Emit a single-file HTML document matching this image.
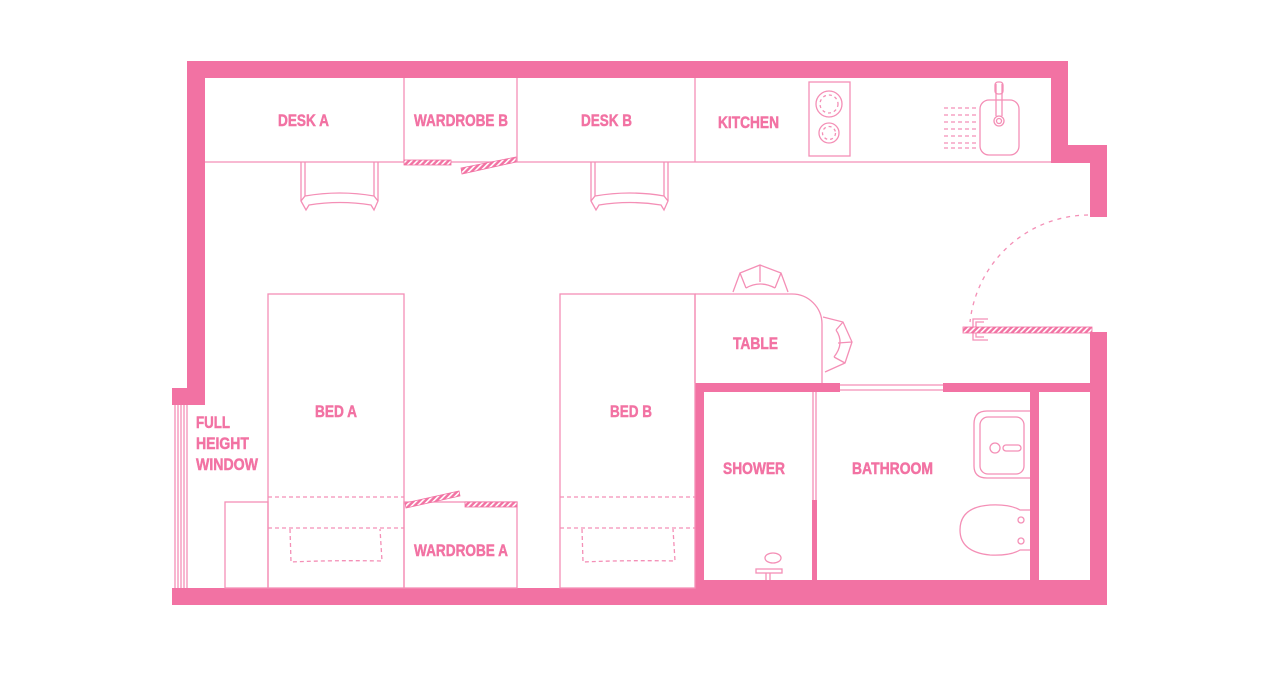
<!DOCTYPE html>
<html><head><meta charset="utf-8"><style>
html,body{margin:0;padding:0;background:#fff;}
svg{display:block;}
text{font-family:"Liberation Sans",sans-serif;font-weight:bold;fill:#F272A3;stroke:#F272A3;stroke-width:0.5;font-size:17px;}
</style></head><body>
<svg width="1280" height="680" viewBox="0 0 1280 680" xmlns="http://www.w3.org/2000/svg">
<defs>
<pattern id="h" width="4" height="4" patternUnits="userSpaceOnUse" patternTransform="rotate(45)">
<rect width="4" height="4" fill="#F272A3"/><rect width="1.6" height="4" fill="#fff"/>
</pattern>
</defs>
<g fill="#F272A3">
<rect x="187" y="61" width="881" height="17"/>
<rect x="187" y="61" width="18" height="344"/>
<rect x="172" y="388" width="33" height="17"/>
<rect x="1051" y="61" width="17" height="102"/>
<rect x="1051" y="145" width="56" height="18"/>
<rect x="1090" y="145" width="17" height="72"/>
<rect x="1090" y="332" width="17" height="273"/>
<rect x="172" y="588" width="935" height="17"/>
<rect x="695" y="580" width="412" height="25"/>
<rect x="695" y="383" width="145" height="9"/>
<rect x="943" y="383" width="147" height="9"/>
<rect x="695" y="383" width="9" height="205"/>
<rect x="812" y="500" width="5" height="82"/>
<rect x="1030" y="383" width="9" height="200"/>
</g>
<g fill="none" stroke="#F48FB6" stroke-width="1.3">
<line x1="175" y1="405" x2="175" y2="588"/><line x1="178" y1="405" x2="178" y2="588"/>
<line x1="181" y1="405" x2="181" y2="588"/><line x1="184" y1="405" x2="184" y2="588"/>
<line x1="187" y1="405" x2="187" y2="588"/>
<line x1="205" y1="162" x2="1051" y2="162"/>
<line x1="404" y1="78" x2="404" y2="162"/>
<line x1="517" y1="78" x2="517" y2="162"/>
<line x1="695" y1="78" x2="695" y2="162"/>
<rect x="809" y="82" width="41" height="74"/>
<circle cx="829" cy="104" r="13"/><circle cx="829" cy="104" r="9" stroke-dasharray="3 3"/>
<circle cx="829" cy="133" r="10"/><circle cx="829" cy="133" r="6.5" stroke-dasharray="3 3"/>
<rect x="980" y="100" width="39" height="55" rx="9"/>
<circle cx="999" cy="121" r="5"/><circle cx="999" cy="121" r="2.5"/>
<line x1="996" y1="84" x2="996" y2="116"/><line x1="1002" y1="84" x2="1002" y2="116"/>
<rect x="995" y="82" width="8" height="12" rx="3"/>
<g stroke-dasharray="4 3">
<line x1="944" y1="108" x2="979" y2="108"/><line x1="944" y1="115" x2="979" y2="115"/>
<line x1="944" y1="122" x2="979" y2="122"/><line x1="944" y1="129" x2="979" y2="129"/>
<line x1="944" y1="136" x2="979" y2="136"/><line x1="944" y1="143" x2="979" y2="143"/>
<line x1="944" y1="148" x2="979" y2="148"/>
</g>
<g id="ch">
<path d="M301 162 V201 M305 162 V196 M374 162 V196 M378 162 V201"/>
<path d="M301 201 L306 210 L309 205 Q340 200 371 205 L374 210 L378 201 L374 196 Q340 190 305 196 Z"/>
</g>
<use href="#ch" x="290"/>
<path d="M1088 215 A120 120 0 0 0 970 322" stroke-dasharray="4 5"/>
<path d="M988 319 H973 V340 H988 M984 322 H976 V337 H984"/>
<path d="M695 294 H792 A30 30 0 0 1 822 324 V383"/>
<path d="M733 292 L740 273 L760 265 L781 273 L788 292 M740 273 L746 288 M760 265 L760 282 M781 273 L775 288 M746 288 Q760 280 775 288"/>
<path d="M823 317 L843 322 L852 342 L845 363 L825 372 M843 322 L836 330 M852 342 L838 343 M845 363 L834 357 M836 330 Q845 343 834 357"/>
<line x1="840" y1="385" x2="943" y2="385"/><line x1="840" y1="390" x2="943" y2="390"/>
<line x1="813" y1="392" x2="813" y2="500"/><line x1="816" y1="392" x2="816" y2="500"/>
<path d="M1030 411 H987 Q974 411 974 424 V466 Q974 478 987 478 H1030"/>
<rect x="980" y="417" width="44" height="57" rx="8"/>
<circle cx="995" cy="448" r="5"/><rect x="1003" y="445" width="18" height="6" rx="3"/>
<path d="M1030 510 H1020 Q1010 504 990 505 Q960 507 960 530 Q960 552 990 555 Q1010 556 1020 550 H1030"/>
<circle cx="1021" cy="520" r="3"/><circle cx="1021" cy="541" r="3"/>
<ellipse cx="773" cy="558" rx="8" ry="5"/><rect x="756" y="569" width="26" height="4"/>
<line x1="766" y1="573" x2="766" y2="580"/><line x1="770" y1="573" x2="770" y2="580"/>
<rect x="268" y="294" width="136" height="294"/>
<rect x="560" y="294" width="135" height="294"/>
<line x1="695" y1="294" x2="695" y2="383"/>
<rect x="404" y="502" width="113" height="86"/>
<rect x="225" y="502" width="43" height="86"/>
<g stroke-dasharray="4 3">
<line x1="268" y1="497" x2="404" y2="497"/><line x1="268" y1="528" x2="404" y2="528"/>
<line x1="560" y1="497" x2="695" y2="497"/><line x1="560" y1="528" x2="695" y2="528"/>
<path d="M290 529 L291 562 Q335 560 382 561 L380 529"/>
<path d="M582 529 L583 562 Q627 560 675 561 L673 529"/>
</g>
</g>
<g fill="url(#h)" stroke="#F272A3" stroke-width="0.8">
<rect x="404" y="160" width="47" height="5"/>
<polygon points="461,168 516,157 516,162 462,174"/>
<polygon points="405,503 459,491 460,496 406,508"/>
<rect x="465" y="502" width="52" height="5"/>
<rect x="963" y="327" width="129" height="6"/>
</g>
<text x="278" y="126" textLength="51" lengthAdjust="spacingAndGlyphs">DESK A</text>
<text x="414" y="126" textLength="94" lengthAdjust="spacingAndGlyphs">WARDROBE B</text>
<text x="581" y="126" textLength="51" lengthAdjust="spacingAndGlyphs">DESK B</text>
<text x="718" y="128" textLength="61" lengthAdjust="spacingAndGlyphs">KITCHEN</text>
<text x="733" y="349" textLength="45" lengthAdjust="spacingAndGlyphs">TABLE</text>
<text x="315" y="417" textLength="42" lengthAdjust="spacingAndGlyphs">BED A</text>
<text x="610" y="417" textLength="42" lengthAdjust="spacingAndGlyphs">BED B</text>
<text x="723" y="474" textLength="62" lengthAdjust="spacingAndGlyphs">SHOWER</text>
<text x="852" y="474" textLength="81" lengthAdjust="spacingAndGlyphs">BATHROOM</text>
<text x="414" y="556" textLength="94" lengthAdjust="spacingAndGlyphs">WARDROBE A</text>
<text x="196" y="428" textLength="34" lengthAdjust="spacingAndGlyphs">FULL</text>
<text x="196" y="449" textLength="53" lengthAdjust="spacingAndGlyphs">HEIGHT</text>
<text x="196" y="470" textLength="62" lengthAdjust="spacingAndGlyphs">WINDOW</text>
</svg>
</body></html>
